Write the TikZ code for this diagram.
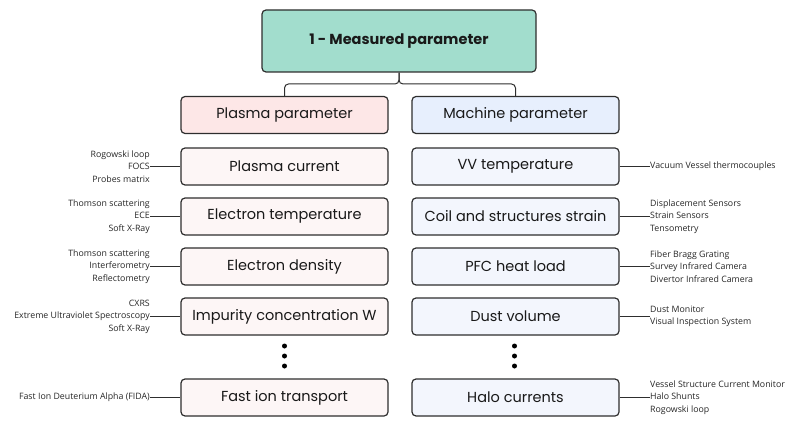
\documentclass[tikz,border=0pt]{standalone}
\usepackage{fontspec}
\setmainfont{Poppins}
\newfontfamily\labfont{Open Sans}
\definecolor{topfill}{HTML}{A2DDCD}
\definecolor{pinkhead}{HTML}{FDE7E7}
\definecolor{bluehead}{HTML}{E7EFFD}
\definecolor{pinkbox}{HTML}{FDF6F6}
\definecolor{bluebox}{HTML}{F3F6FD}
\definecolor{edge}{HTML}{2E2E2E}
\begin{document}
\begin{tikzpicture}[x=1pt,y=-1pt,
  box/.style={draw=edge,line width=1.2pt,rounded corners=4pt,minimum width=207pt,minimum height=37pt,inner sep=0pt,font=\fontsize{14.5}{16}\selectfont,text=black!90},
  topbox/.style={box,fill=topfill,minimum width=274pt,minimum height=62pt,font=\fontsize{14.5}{16}\selectfont\bfseries},
  pbox/.style={box,fill=pinkbox},
  mbox/.style={box,fill=bluebox},
  lab/.style={font=\labfont\fontsize{8.8}{12.6}\selectfont,inner sep=0pt,text=black!85},
  conn/.style={draw=edge,line width=1pt},
  dot/.style={circle,fill=black,inner sep=0pt,minimum size=5pt}]
\useasboundingbox (0,0) rectangle (800,425);
\node[topbox] (top) at (399,41) {1 - Measured parameter};
\node[box,fill=pinkhead] (pp) at (284.5,115) {Plasma parameter};
\node[box,fill=bluehead] (mp) at (515.5,115) {Machine parameter};
\coordinate (mid) at (399,84);
\draw[conn,rounded corners=4pt] (top.south) -- (mid) -| (pp.north);
\draw[conn,rounded corners=4pt] (top.south) -- (mid) -| (mp.north);

\node[pbox] (p1) at (284.5,166.5) {Plasma current};
\node[pbox] (p2) at (284.5,216.5) {Electron temperature};
\node[pbox] (p3) at (284.5,266.5) {Electron density};
\node[pbox] (p4) at (284.5,316.5) {Impurity concentration W};
\node[pbox] (p5) at (284.5,397.5) {Fast ion transport};
\node[mbox] (m1) at (515.5,166.5) {VV temperature};
\node[mbox] (m2) at (515.5,216.5) {Coil and structures strain};
\node[mbox] (m3) at (515.5,266.5) {PFC heat load};
\node[mbox] (m4) at (515.5,316.5) {Dust volume};
\node[mbox] (m5) at (515.5,397.5) {Halo currents};

\node[dot] (pd1) at (284.5,346) {};
\node[dot] (pd2) at (284.5,356) {};
\node[dot] (pd3) at (284.5,366) {};
\node[dot] (md1) at (514.5,346) {};
\node[dot] (md2) at (514.5,356) {};
\node[dot] (md3) at (514.5,366) {};

\node[lab,anchor=east,align=right] (lp1) at (150,166.5) {Rogowski loop\\FOCS\\Probes matrix};
\node[lab,anchor=east,align=right] (lp2) at (150,216.5) {Thomson scattering\\ECE\\Soft X-Ray};
\node[lab,anchor=east,align=right] (lp3) at (150,266.5) {Thomson scattering\\Interferometry\\Reflectometry};
\node[lab,anchor=east,align=right] (lp4) at (150,316.5) {CXRS\\Extreme Ultraviolet Spectroscopy\\Soft X-Ray};
\node[lab,anchor=east,align=right] (lp5) at (150,397.5) {Fast Ion Deuterium Alpha (FIDA)};
\node[lab,anchor=west,align=left] (lm1) at (650,166.5) {Vacuum Vessel thermocouples};
\node[lab,anchor=west,align=left] (lm2) at (650,216.5) {Displacement Sensors\\Strain Sensors\\Tensometry};
\node[lab,anchor=west,align=left] (lm3) at (650,266.5) {Fiber Bragg Grating\\Survey Infrared Camera\\Divertor Infrared Camera};
\node[lab,anchor=west,align=left] (lm4) at (650,316.5) {Dust Monitor\\Visual Inspection System};
\node[lab,anchor=west,align=left] (lm5) at (650,397.5) {Vessel Structure Current Monitor\\Halo Shunts\\Rogowski loop};

\foreach \i in {1,...,5}{
  \draw[conn] (lp\i.east) -- (p\i.west);
}
\draw[conn] (m1.east) -- (lm1.west);
\draw[conn] (m2.east) -- (lm2.west);
\draw[conn] (m3.east) -- (lm3.west);
\draw[conn] (m4.east) -- (lm4.west |- m4.east);
\draw[conn] (m5.east) -- (lm5.west);
\end{tikzpicture}
\end{document}
